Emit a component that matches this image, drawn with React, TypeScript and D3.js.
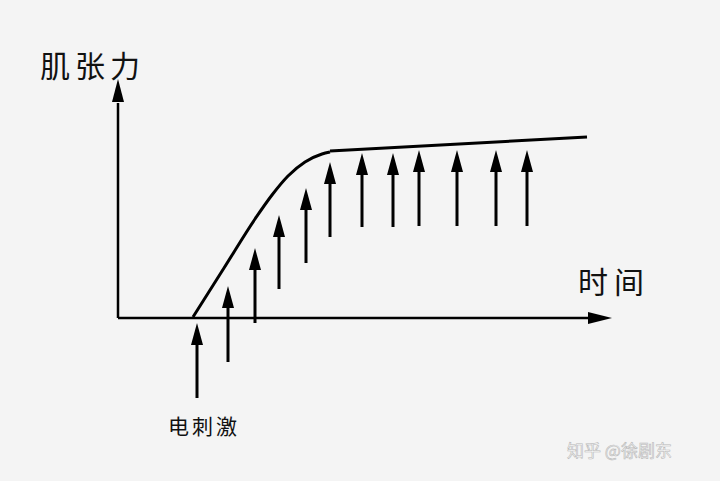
import React from "react";
import * as d3 from "d3";

// pixel-ish units measured from the axis origin
const risePoints: [number, number][] = [
  [75, 1], [106, 50], [137, 99], [154, 123], [170, 142],
  [187, 156], [204, 164], [212, 166],
];
const plateauPoints: [number, number][] = [[212, 167], [469, 181]];

const stimTimes = [79, 110, 137, 161, 188, 212, 244, 275, 301, 339, 378, 409];
const stimBottoms = [-80, -44, -5, 29, 55, 81, 91, 91, 92, 92, 92, 92];
const stimTops = [-5, 32, 70, 103, 130, 156, 165, 165, 168, 168, 168, 168];

const yLabel = "肌张力";
const xLabel = "时间";
const stimLabel = "电刺激";
const watermark = "知乎 @徐剧东";

const W = 720;
const H = 481;

const App = () => {
  const x = d3.scaleLinear().domain([0, 492]).range([118, 610]);
  const y = d3.scaleLinear().domain([0, 238]).range([318, 80]);

  const riseLine = d3
    .line<[number, number]>()
    .x((d) => x(d[0]))
    .y((d) => y(d[1]))
    .curve(d3.curveMonotoneX);
  const flatLine = d3
    .line<[number, number]>()
    .x((d) => x(d[0]))
    .y((d) => y(d[1]));

  const headUp = (cx: number, tip: number, w = 12, h = 22) =>
    `M${cx},${tip}L${cx - w / 2},${tip + h}L${cx + w / 2},${tip + h}Z`;

  const cjk = "'Noto Sans CJK SC', sans-serif";

  return (
    <div style={{ position: "fixed", left: 0, top: 0 }}>
      <svg width={W} height={H} style={{ display: "block" }}>
        <rect width={W} height={H} fill="#f4f4f4" />

        {/* y axis */}
        <line x1={x(0)} y1={y(0)} x2={x(0)} y2={y(0) - 215} stroke="#000" strokeWidth={2.5} />
        <path d={headUp(x(0), y(238) - 1, 12, 23)} fill="#000" />
        {/* x axis */}
        <line x1={x(0)} y1={y(0)} x2={x(470)} y2={y(0)} stroke="#000" strokeWidth={2.5} />
        <path
          d={`M${x(494)},${y(0)}L${x(470)},${y(0) - 6}L${x(470)},${y(0) + 6}Z`}
          fill="#000"
        />

        {/* tension curve */}
        <path d={riseLine(risePoints) ?? ""} fill="none" stroke="#000" strokeWidth={3} />
        <path d={flatLine(plateauPoints) ?? ""} fill="none" stroke="#000" strokeWidth={3} />

        {/* stimulus arrows */}
        {stimTimes.map((t, i) => (
          <g key={i}>
            <line
              x1={x(t)}
              x2={x(t)}
              y1={y(stimBottoms[i])}
              y2={y(stimTops[i]) + 15}
              stroke="#000"
              strokeWidth={3}
            />
            <path d={headUp(x(t), y(stimTops[i]))} fill="#000" />
          </g>
        ))}

        <text x={40} y={77} fontFamily={cjk} fontSize={30} letterSpacing={5} fill="#111">
          {yLabel}
        </text>
        <text x={578} y={293} fontFamily={cjk} fontSize={30} letterSpacing={6} fill="#111">
          {xLabel}
        </text>
        <text x={168} y={434} fontFamily={cjk} fontSize={21} letterSpacing={3} fill="#111">
          {stimLabel}
        </text>
        <text
          x={567}
          y={457}
          fontFamily={cjk}
          fontSize={17}
          fill="#fafafa"
          stroke="#b8b8b8"
          strokeWidth={0.6}
        >
          {watermark}
        </text>
      </svg>
    </div>
  );
};

export default App;
